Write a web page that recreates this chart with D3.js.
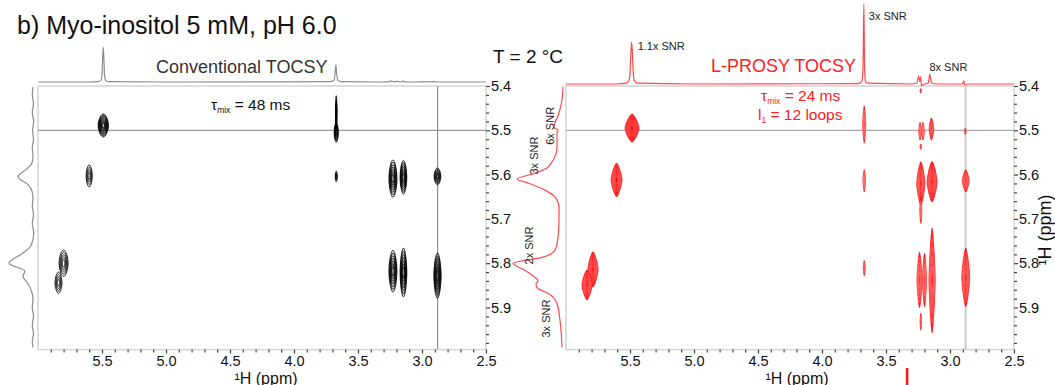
<!DOCTYPE html>
<html><head><meta charset="utf-8">
<script src="https://cdn.jsdelivr.net/npm/d3@7"></script>
<style>
body{margin:0;background:#fff}
svg{display:block;font-family:"Liberation Sans",Arial,sans-serif}
</style>
</head><body>
<svg id="c" width="1055" height="385"></svg>
<script>
// ---------------- DATA ----------------
const xMajorTicks = [5.5, 5.0, 4.5, 4.0, 3.5, 3.0, 2.5];
const xMinorTicks = [5.9,5.8,5.7,5.6,5.4,5.3,5.2,5.1,4.9,4.8,4.7,4.6,4.4,4.3,4.2,4.1,3.9,3.8,3.7,3.6,3.4,3.3,3.2,3.1,2.9,2.8,2.7,2.6];
const yMajorTicks = [5.4, 5.5, 5.6, 5.7, 5.8, 5.9];
const yMinorTicks = [5.42,5.44,5.46,5.48,5.52,5.54,5.56,5.58,5.62,5.64,5.66,5.68,5.72,5.74,5.76,5.78,5.82,5.84,5.86,5.88,5.92,5.94,5.96,5.98];

// 1D projections: [ppm, relative intensity]
const convTop = [[6.0,0],[5.6,0],[5.53,0.01],[5.51,0.04],[5.50,0.18],[5.495,0.65],[5.49,1],[5.485,0.65],[5.48,0.18],[5.47,0.04],[5.45,0.01],[5.0,0],[3.72,0.01],[3.69,0.04],[3.68,0.2],[3.673,0.49],[3.666,0.2],[3.655,0.04],[3.63,0.01],[3.3,0],[3.26,0.01],[3.24,0.025],[3.22,0.005],[3.2,0.02],[3.17,0.005],[3.15,0.025],[3.12,0],[2.9,0.01],[2.88,0],[2.5,0]];
const lprosyTop = [[6.0,0],[5.6,0],[5.53,0.01],[5.51,0.04],[5.50,0.13],[5.493,0.38],[5.487,0.525],[5.481,0.38],[5.474,0.13],[5.465,0.04],[5.44,0.01],[5.0,0],[3.72,0.005],[3.69,0.03],[3.68,0.18],[3.673,1.0],[3.667,0.18],[3.66,0.03],[3.64,0.01],[3.3,0],[3.26,0.01],[3.245,0.10],[3.237,0.03],[3.23,0.09],[3.222,-0.02],[3.2,0],[3.17,0.01],[3.158,0.125],[3.15,0.05],[3.14,0.01],[3.1,0],[2.9,0.0],[2.893,0.04],[2.885,-0.01],[2.87,0],[2.5,0]];
const convSide = [[5.402,0],[5.42,0.03],[5.44,-0.02],[5.46,0.03],[5.48,-0.03],[5.50,0.02],[5.52,-0.02],[5.54,0.03],[5.56,0.0],[5.575,0.05],[5.587,0.25],[5.605,0.62],[5.623,0.2],[5.638,0.04],[5.655,0.0],[5.67,0.03],[5.69,-0.02],[5.71,0.03],[5.73,-0.03],[5.75,0.02],[5.763,0.12],[5.777,0.42],[5.80,1.0],[5.818,0.34],[5.83,0.42],[5.843,0.25],[5.865,0.05],[5.88,0.0],[5.90,0.03],[5.92,-0.02],[5.94,0.03],[5.96,-0.02],[5.975,0.03],[5.99,0]];
const lprosySide = [[5.402,0],[5.432,0.02],[5.461,0.08],[5.493,0.18],[5.50,0.10],[5.506,0.12],[5.538,0.12],[5.583,0.30],[5.597,0.56],[5.61,0.92],[5.619,0.70],[5.635,0.36],[5.651,0.16],[5.674,0.08],[5.703,0.08],[5.742,0.10],[5.771,0.16],[5.787,0.42],[5.80,1.0],[5.816,0.76],[5.832,0.56],[5.839,0.50],[5.848,0.54],[5.857,0.50],[5.868,0.30],[5.891,0.12],[5.929,0.06],[5.99,0.02]];

// 2D cross peaks: [F2 ppm, F1 ppm, half-width F2 (ppm), half-width F1 (ppm), contour levels]
const convPeaks = [
  [5.49, 5.489, 0.040, 0.026, 10],
  [5.60, 5.603, 0.024, 0.025, 4],
  [5.80, 5.800, 0.035, 0.030, 5],
  [5.84, 5.844, 0.027, 0.024, 4],
  [3.67, 5.505, 0.016, 0.022, 6],
  [3.67, 5.462, 0.006, 0.040, 4],
  [3.67, 5.604, 0.008, 0.012, 3],
  [3.227, 5.609, 0.031, 0.042, 7],
  [3.145, 5.606, 0.026, 0.038, 7],
  [2.879, 5.604, 0.026, 0.019, 6],
  [3.227, 5.818, 0.031, 0.047, 7],
  [3.145, 5.821, 0.026, 0.055, 7],
  [2.879, 5.828, 0.028, 0.051, 7]
];
const lprosyPeaks = [
  [5.484, 5.495, 0.055, 0.032, 6],
  [5.605, 5.612, 0.043, 0.038, 6],
  [5.789, 5.814, 0.040, 0.040, 6],
  [5.836, 5.849, 0.040, 0.034, 6],
  [3.67, 5.487, 0.012, 0.042, 4],
  [3.67, 5.614, 0.010, 0.025, 4],
  [3.67, 5.811, 0.008, 0.017, 3],
  [3.228, 5.411, 0.006, 0.005, 2],
  [3.234, 5.502, 0.010, 0.020, 4],
  [3.211, 5.502, 0.010, 0.020, 4],
  [3.145, 5.497, 0.018, 0.025, 4],
  [2.88, 5.502, 0.006, 0.007, 2],
  [3.228, 5.537, 0.006, 0.006, 2],
  [3.228, 5.620, 0.032, 0.049, 6],
  [3.228, 5.68, 0.008, 0.03, 3],
  [3.140, 5.616, 0.039, 0.046, 6],
  [2.877, 5.614, 0.027, 0.025, 6],
  [3.238, 5.838, 0.020, 0.063, 5],
  [3.199, 5.838, 0.016, 0.060, 5],
  [3.140, 5.839, 0.024, 0.118, 5],
  [2.877, 5.832, 0.031, 0.066, 6],
  [3.228, 5.932, 0.006, 0.019, 2]
];
// reference lines (ppm)
const hLinePpm = 5.5;
const vLinePpm = 2.878;
// annotations
const topLabelsR = ["1.1x SNR", "3x SNR", "8x SNR"];
const sideLabelsR = [{t:"6x SNR", y:5.49}, {t:"3x SNR", y:5.557}, {t:"2x SNR", y:5.76}, {t:"3x SNR", y:5.925}];

// ---------------- DRAWING ----------------
const svg = d3.select("#c");
const fmt = d3.format(".1f");
const yS = d3.scaleLinear([5.4, 5.995], [86, 349.6]);

function blobPath(xs, ys, pk, p, s) {
  const [cx, cy, a, b] = pk;
  const pts = d3.range(0, 72).map(i => {
    const t = i / 72 * 2 * Math.PI, c = Math.cos(t), sn = Math.sin(t);
    return [xs(cx + a * s * Math.sign(c) * Math.pow(Math.abs(c), 2 / p)),
            ys(cy + b * s * Math.sign(sn) * Math.pow(Math.abs(sn), 2 / p))];
  });
  return d3.line().curve(d3.curveLinearClosed)(pts);
}

function panel(opt) {
  const xs = d3.scaleLinear([6.0, 2.5], opt.xr);
  const g = svg.append("g");
  const [x0, x1] = opt.xr, y0 = yS.range()[0], y1 = yS.range()[1];
  const cid = "clip" + opt.id;
  svg.append("clipPath").attr("id", cid).append("rect")
    .attr("x", x0).attr("y", y0).attr("width", x1 - x0).attr("height", y1 - y0);

  // frame
  g.append("rect").attr("x", x0).attr("y", y0).attr("width", x1 - x0).attr("height", y1 - y0)
    .attr("fill", "none").attr("stroke", "#d4d4d4").attr("stroke-width", 1.5);

  // reference lines
  g.append("line").attr("x1", x0).attr("x2", x1).attr("y1", yS(hLinePpm)).attr("y2", yS(hLinePpm))
    .attr("stroke", opt.refColor).attr("stroke-width", 1.2);
  g.append("line").attr("x1", xs(vLinePpm)).attr("x2", xs(vLinePpm)).attr("y1", y0).attr("y2", y1)
    .attr("stroke", opt.vColor).attr("stroke-width", opt.vWidth);

  // contours
  const cg = g.append("g").attr("clip-path", `url(#${cid})`);
  opt.peaks.forEach(pk => {
    const n = pk[4];
    for (let k = 0; k < n; k++) {
      const s = 1 - k / n * 0.9;
      const path = cg.append("path").attr("d", blobPath(xs, yS, pk, opt.pExp, s));
      if (opt.filled) {
        if (k === 0) path.attr("fill", opt.color).attr("stroke", opt.color).attr("stroke-width", 0.8);
        else path.attr("fill", "none").attr("stroke", "#ff9a9a").attr("stroke-width", 0.45);
      } else {
        path.attr("fill", "none").attr("stroke", opt.color).attr("stroke-width", 0.95);
      }
    }
  });

  // x axis
  const xAxisG = g.append("g").attr("transform", `translate(0,${y1})`);
  xAxisG.append("g").call(d3.axisBottom(xs).tickValues(xMinorTicks).tickSize(3).tickFormat(""))
    .call(a => a.select(".domain").remove());
  xAxisG.append("g").call(d3.axisBottom(xs).tickValues(xMajorTicks).tickSize(4).tickPadding(2).tickFormat(fmt))
    .call(a => a.select(".domain").remove());
  xAxisG.selectAll("line").attr("stroke", "#444").attr("stroke-width", 1.2);
  xAxisG.selectAll("text").attr("font-size", 14.5).attr("fill", "#111").attr("font-family", "Liberation Sans, Arial, sans-serif");

  // y axis (right)
  const yAxisG = g.append("g").attr("transform", `translate(${x1},0)`);
  yAxisG.append("g").call(d3.axisRight(yS).tickValues(yMinorTicks).tickSize(3).tickFormat(""))
    .call(a => a.select(".domain").remove());
  yAxisG.append("g").call(d3.axisRight(yS).tickValues(yMajorTicks).tickSize(4).tickPadding(1).tickFormat(fmt))
    .call(a => a.select(".domain").remove());
  yAxisG.selectAll("line").attr("stroke", "#444").attr("stroke-width", 1.2);
  yAxisG.selectAll("text").attr("font-size", 14.5).attr("fill", "#111").attr("font-family", "Liberation Sans, Arial, sans-serif");

  // top 1D trace
  const tS = d3.scaleLinear([0, 1], opt.topRange);
  g.append("path").datum(opt.top)
    .attr("d", d3.line().x(d => xs(d[0])).y(d => tS(d[1])).curve(d3.curveMonotoneX))
    .attr("fill", "none").attr("stroke", opt.traceColor).attr("stroke-width", 1.2);

  // side 1D trace
  const sS = d3.scaleLinear([0, 1], opt.sideRange);
  g.append("path").datum(opt.side)
    .attr("d", d3.line().x(d => sS(d[1])).y(d => yS(d[0])).curve(d3.curveMonotoneY))
    .attr("fill", "none").attr("stroke", opt.traceColor).attr("stroke-width", 1.2);

  // x label
  g.append("text").attr("x", opt.xLabelX).attr("y", 383.5).attr("text-anchor", "middle")
    .attr("font-size", 16).attr("fill", "#111").text("\u00B9H (ppm)");
  return {xs, tS, sS, g};
}

// Left panel: conventional TOCSY
const L = panel({id: "L", xr: [38, 486], peaks: convPeaks, color: "#000", filled: false, pExp: 1.75,
  refColor: "#9a9a9a", vColor: "#8a8a8a", vWidth: 1.1,
  top: convTop, topRange: [82, 47], side: convSide, sideRange: [33, 9],
  traceColor: "#8c8c8c", xLabelX: 266});

// Right panel: L-PROSY TOCSY
const R = panel({id: "R", xr: [566, 1014], peaks: lprosyPeaks, color: "#ff1010", filled: true, pExp: 1.35,
  refColor: "#aaaaaa", vColor: "#cccccc", vWidth: 2,
  top: lprosyTop, topRange: [84, 4], side: lprosySide, sideRange: [563, 513],
  traceColor: "#ff4a4a", xLabelX: 797});

// red fragment below the right axis (cut-off trace from neighbouring figure)
svg.append("line").attr("x1", R.xs(3.335)).attr("x2", R.xs(3.335)).attr("y1", 368).attr("y2", 385)
  .attr("stroke", "#ff1a1a").attr("stroke-width", 2.5);

// right y title
svg.append("text").attr("transform", "translate(1051,230) rotate(-90)")
  .attr("text-anchor", "middle").attr("font-size", 18).attr("fill", "#111").text("\u00B9H (ppm)");

// titles
svg.append("text").attr("x", 17).attr("y", 34).attr("font-size", 25).attr("fill", "#111")
  .text("b) Myo-inositol 5 mM, pH 6.0");
svg.append("text").attr("x", 156).attr("y", 72.5).attr("font-size", 18).attr("fill", "#333")
  .text("Conventional TOCSY");
svg.append("text").attr("x", 711).attr("y", 72).attr("font-size", 18).attr("fill", "#ff2020")
  .text("L-PROSY TOCSY");
svg.append("text").attr("x", 493).attr("y", 63).attr("font-size", 19).attr("fill", "#111")
  .text("T = 2 \u00B0C");

// mixing-time annotations
function tauText(x, y, val, color) {
  const t = svg.append("text").attr("x", x).attr("y", y).attr("font-size", 15.5).attr("fill", color);
  t.append("tspan").text("\u03C4");
  t.append("tspan").attr("font-size", 8.5).attr("dy", 3).text("mix");
  t.append("tspan").attr("dy", -3).text(" = " + val);
}
tauText(211, 110, "48 ms", "#111");
tauText(761, 101, "24 ms", "#ff2020");
const lt = svg.append("text").attr("x", 758).attr("y", 120).attr("font-size", 15.5).attr("fill", "#ff2020");
lt.append("tspan").text("l");
lt.append("tspan").attr("font-size", 8.5).attr("dy", 3).text("1");
lt.append("tspan").attr("dy", -3).text(" = 12 loops");

// SNR labels on the L-PROSY projections
svg.append("text").attr("x", R.xs(5.487) + 6).attr("y", 49.5).attr("font-size", 11).attr("fill", "#222").text(topLabelsR[0]);
svg.append("text").attr("x", R.xs(3.673) + 5).attr("y", 20).attr("font-size", 11).attr("fill", "#222").text(topLabelsR[1]);
svg.append("text").attr("x", R.xs(3.20) + 24).attr("y", 71).attr("font-size", 11).attr("fill", "#222").attr("text-anchor", "middle").text(topLabelsR[2]);
const sideX = [554, 538, 533, 550];
sideLabelsR.forEach((d, i) => {
  svg.append("text").attr("transform", `translate(${sideX[i]},${yS(d.y)}) rotate(-90)`)
    .attr("text-anchor", "middle").attr("font-size", 11).attr("fill", "#222").text(d.t);
});
</script>
</body></html>
